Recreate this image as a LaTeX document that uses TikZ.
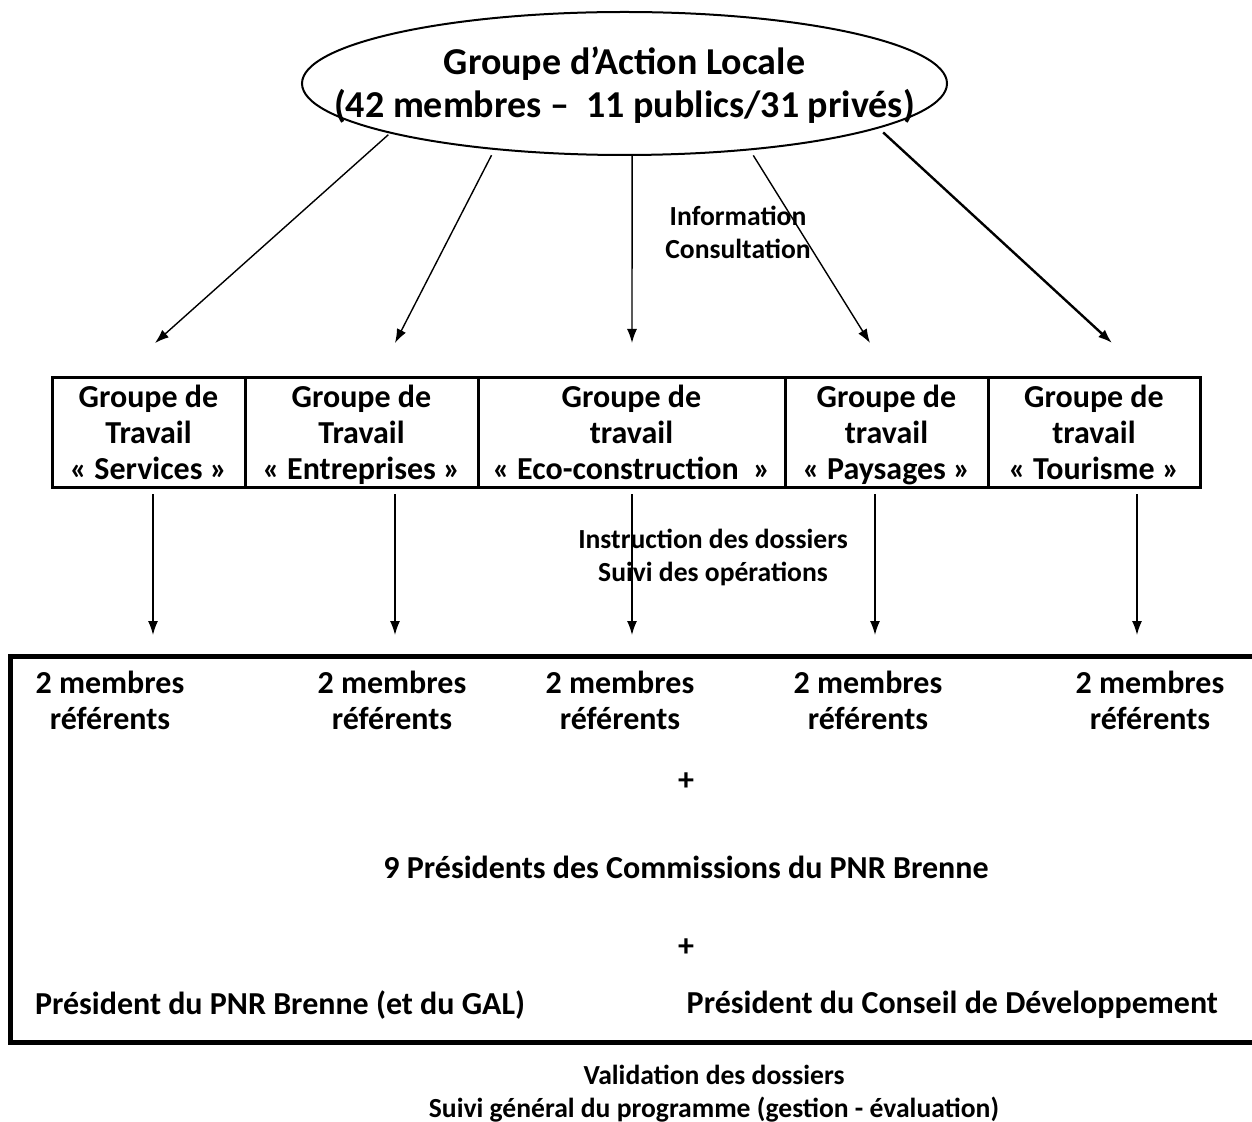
\documentclass[tikz,border=0pt]{standalone}
\usepackage{fontspec}
\setmainfont{Carlito}
\usetikzlibrary{arrows.meta,shapes.geometric}

\begin{document}
\begin{tikzpicture}[
  x=0.5pt, y=-0.5pt,
  every node/.style={align=center, font=\bfseries\fontsize{16}{18}\selectfont},
  gal/.style={draw, ellipse, line width=1pt, minimum width=322.5pt, minimum height=71.5pt, inner sep=0pt},
  galtext/.style={font=\bfseries\fontsize{19}{21.5}\selectfont, yshift=-1pt},
  groupe/.style={draw, line width=1.5pt, minimum height=55pt, inner sep=0pt, text height=47pt, text depth=0pt},
  link/.style={draw, -{Latex[length=7pt,width=5pt]}, line width=0.7pt},
  note/.style={font=\bfseries\fontsize{13.8}{16.5}\selectfont}
]
\useasboundingbox (0,0) rectangle (1252,1122);

% Groupe d'Action Locale
\node[gal, label={[galtext]center:Groupe d'Action Locale\\(42 membres --\ \ 11 publics/31 privés)}] (gal) at (624.5,83.5) {};

% groupes de travail
\node[groupe, minimum width=96.5pt] (services) at (148.5,433) {Groupe de\\Travail\\«~Services~»};
\node[groupe, minimum width=116.5pt] (entreprises) at (361.5,433) {Groupe de\\Travail\\«~Entreprises~»};
\node[groupe, minimum width=153.5pt] (eco) at (631.5,433) {Groupe de\\travail\\«~Eco-construction~~»};
\node[groupe, minimum width=101.5pt] (paysages) at (886.5,433) {Groupe de\\travail\\«~Paysages~»};
\node[groupe, minimum width=106pt] (tourisme) at (1094,433) {Groupe de\\travail\\«~Tourisme~»};

\coordinate (t1) at (155,343);
\coordinate (t2) at (395,343);
\coordinate (t3) at (632,343);
\coordinate (t4) at (870,343);
\coordinate (t5) at (1112,343);

\draw[link, shorten <=1pt] (gal.192) -- (t1);
\draw[link, shorten <=3pt] (gal.207) -- (t2);
\draw[link] (gal.-84) -- (t3);
\draw[link, shorten <=3pt] (gal.-28) -- (t4);
\draw[link, line width=1.2pt, shorten <=3pt] (gal.-10) -- (t5);

\node[note] (info) at (738,232) {Information\\Consultation};

% vers le comite
\coordinate (b1) at (153,635);
\coordinate (b2) at (395,635);
\coordinate (b3) at (632,635);
\coordinate (b4) at (875,635);
\coordinate (b5) at (1137,635);

\draw[link, shorten <=2.5pt] (services.south -| b1) -- (b1);
\draw[link, shorten <=2.5pt] (entreprises.south -| b2) -- (b2);
\draw[link, shorten <=2.5pt] (eco.south -| b3) -- (b3);
\draw[link, shorten <=2.5pt] (paysages.south -| b4) -- (b4);
\draw[link, shorten <=2.5pt] (tourisme.south -| b5) -- (b5);

\node[note] (instr) at (713,557) {Instruction des dossiers\\Suivi des opérations};

% comite de programmation
\draw[line width=2.5pt] (1275,656) -- (10,656) -- (10,1042) -- (1275,1042);

\node (m1) at (110,700) {2 membres\\référents};
\node (m2) at (392,700) {2 membres\\référents};
\node (m3) at (620,700) {2 membres\\référents};
\node (m4) at (868,700) {2 membres\\référents};
\node (m5) at (1150,700) {2 membres\\référents};

\node (plus1) at (686,782) {+};
\node (presidents) at (686,867) {9 Présidents des Commissions du PNR Brenne};
\node (plus2) at (686,948) {+};
\node[anchor=west] (pnr) at (28,1005) {Président du PNR Brenne (et du GAL)};
\node[anchor=east] (conseil) at (1225,1005) {Président du Conseil de Développement};

\node[note] (validation) at (714,1094) {Validation des dossiers\\Suivi général du programme (gestion - évaluation)};
\end{tikzpicture}
\end{document}
